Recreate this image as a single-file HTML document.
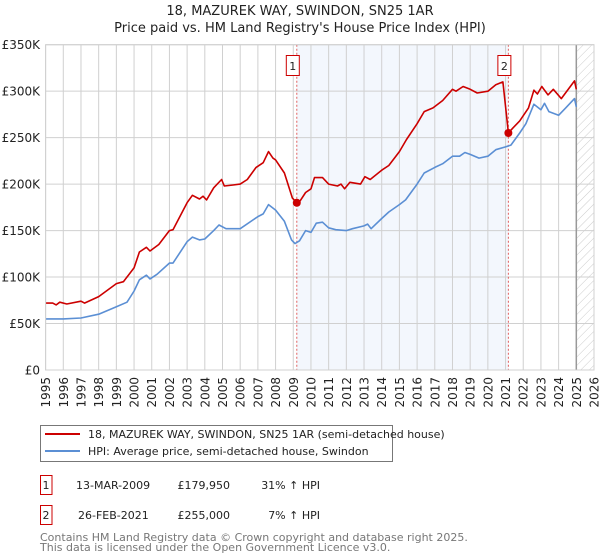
<!DOCTYPE html>
<html><head><meta charset="utf-8"><style>
body{margin:0;background:#fff;font-family:"DejaVu Sans","Liberation Sans",sans-serif;}
#wrap{position:relative;width:600px;height:560px;overflow:hidden}
</style></head><body><div id="wrap">
<svg id="c" width="600" height="560" xmlns="http://www.w3.org/2000/svg" font-family="DejaVu Sans, Liberation Sans, sans-serif">
<defs><pattern id="hatch" width="6" height="6" patternUnits="userSpaceOnUse" patternTransform="rotate(45)"><line x1="0" y1="0" x2="0" y2="6" stroke="#ccc" stroke-width="1"/></pattern></defs>
<text x="300" y="15" text-anchor="middle" font-size="13" fill="#222">18, MAZUREK WAY, SWINDON, SN25 1AR</text>
<text x="300" y="32" text-anchor="middle" font-size="13" fill="#222">Price paid vs. HM Land Registry's House Price Index (HPI)</text>
<g id="plot"></g>
<g>
<rect x="40.5" y="425.5" width="352" height="36" fill="#fff" stroke="#777"/>
<line x1="45" y1="434" x2="80" y2="434" stroke="#cc0000" stroke-width="2"/>
<text x="88" y="438" font-size="11" fill="#222">18, MAZUREK WAY, SWINDON, SN25 1AR (semi-detached house)</text>
<line x1="45" y1="451" x2="80" y2="451" stroke="#5b8fd4" stroke-width="2"/>
<text x="88" y="455" font-size="11" fill="#222">HPI: Average price, semi-detached house, Swindon</text>
</g>
<g font-size="11" fill="#222">
<rect x="40.5" y="475.5" width="11.5" height="19" fill="#fff" stroke="#cc0000"/>
<text x="46" y="489" text-anchor="middle">1</text>
<text x="76" y="489">13-MAR-2009</text>
<text x="230" y="489" text-anchor="end">£179,950</text>
<text x="320" y="489" text-anchor="end">31% ↑ HPI</text>
<rect x="40.5" y="505.5" width="11.5" height="19" fill="#fff" stroke="#cc0000"/>
<text x="46" y="519" text-anchor="middle">2</text>
<text x="78" y="519">26-FEB-2021</text>
<text x="230" y="519" text-anchor="end">£255,000</text>
<text x="320" y="519" text-anchor="end">7% ↑ HPI</text>
</g>
<text x="40" y="171" font-size="11" fill="#777" transform="translate(0,370)">Contains HM Land Registry data © Crown copyright and database right 2025.</text>
<text x="40" y="181" font-size="11" fill="#777" transform="translate(0,370)">This data is licensed under the Open Government Licence v3.0.</text>
</svg>
<script>
const yTicks=[0,50,100,150,200,250,300,350];
const yTickLabels=["£0","£50K","£100K","£150K","£200K","£250K","£300K","£350K"];
const xYears=[1995,1996,1997,1998,1999,2000,2001,2002,2003,2004,2005,2006,2007,2008,2009,2010,2011,2012,2013,2014,2015,2016,2017,2018,2019,2020,2021,2022,2023,2024,2025,2026];
const hpiYears=[1995,1996,1997,1998,1999,1999.6,2000,2000.3,2000.7,2000.9,2001.3,2002,2002.2,2003,2003.3,2003.7,2004,2004.5,2004.8,2005.2,2006,2007,2007.3,2007.6,2008,2008.5,2008.9,2009.1,2009.35,2009.7,2010,2010.3,2010.65,2011,2011.4,2012,2012.35,2013,2013.2,2013.4,2014,2014.4,2015,2015.35,2016,2016.4,2017,2017.45,2018,2018.4,2018.7,2019,2019.5,2020,2020.45,2021,2021.3,2021.8,2022.15,2022.6,2023,2023.2,2023.45,2024,2024.4,2024.9,2025];
const hpiValues=[55,55,56,60,68,73,85,97,102,98,103,115,115,138,143,140,141,150,156,152,152,165,168,178,172,160,140,136,139,150,148,158,159,153,151,150,152,155,157,152,163,170,178,183,200,212,218,222,230,230,234,232,228,230,237,240,242,255,265,286,280,287,278,274,282,292,283];
const priceYears=[1995,1995.4,1995.6,1995.8,1996.2,1997,1997.2,1998,1999,1999.4,2000,2000.3,2000.7,2000.9,2001.4,2002,2002.2,2003,2003.3,2003.7,2003.9,2004.1,2004.5,2004.95,2005.1,2005.6,2006,2006.4,2006.9,2007.3,2007.6,2007.85,2008,2008.5,2008.95,2009.2,2009.35,2009.7,2010,2010.2,2010.65,2011,2011.5,2011.7,2011.9,2012.2,2012.8,2013.05,2013.35,2014,2014.4,2015,2015.4,2016,2016.4,2016.9,2017.45,2018,2018.2,2018.6,2019,2019.4,2020,2020.45,2020.85,2021.16,2021.4,2021.8,2022.3,2022.6,2022.8,2023.05,2023.4,2023.7,2024.15,2024.9,2025];
const priceValues=[72,72,70,73,71,74,72,79,93,95,110,127,132,128,135,150,151,180,188,184,187,183,196,205,198,199,200,205,218,223,235,228,226,212,185,180,181,191,195,207,207,200,198,200,195,202,200,208,205,215,220,235,248,265,278,282,290,302,300,305,302,298,300,307,310,255,260,268,282,301,297,305,296,302,292,311,302];
const saleYears=[2009.2,2021.16];
const saleValues=[179.95,255];
const saleLabels=["1","2"];
const NS="http://www.w3.org/2000/svg";
const X0=45.6,X1=594,Y0=370,Y1=44.7;
function xs(y){return X0+(y-1995)/31*(X1-X0);}
function ys(v){return Y0-v/350*(Y0-Y1);}
const g=document.getElementById('plot');
function mk(t,a){const e=document.createElementNS(NS,t);for(const k in a)e.setAttribute(k,a[k]);g.appendChild(e);return e;}
let e=mk('rect',{x:xs(saleYears[0]),y:Y1,width:xs(saleYears[1])-xs(saleYears[0]),height:Y0-Y1,fill:'#eef3fc',opacity:0.7});


e=mk('rect',{x:xs(2025),y:Y1,width:X1-xs(2025),height:Y0-Y1,fill:'url(#hatch)'});


xYears.forEach(yr=>{
 const l=mk('line',{x1:xs(yr),x2:xs(yr),y1:Y1,y2:Y0,stroke:'#d0d0d0','stroke-width':1});
 
 
 const t=mk('text',{x:0,y:0,'font-size':12,fill:'#222','text-anchor':'end',transform:`translate(${xs(yr)+4.5},377) rotate(-90)`});
 t.textContent=yr;
 
 
});
yTicks.forEach((v,i)=>{
 const l=mk('line',{x1:X0,x2:X1,y1:ys(v),y2:ys(v),stroke:'#d0d0d0','stroke-width':1});
 
 
 const t=mk('text',{x:40,y:ys(v)+4.5,'font-size':12,fill:'#222','text-anchor':'end'});
 t.textContent=yTickLabels[i];
 
 
});
e=mk('line',{x1:xs(2025),x2:xs(2025),y1:Y1,y2:Y0,stroke:'#999','stroke-width':1.5});


saleYears.forEach((yr,i)=>{
 const l=mk('line',{x1:xs(yr),x2:xs(yr),y1:Y1,y2:Y0,stroke:'#e06060','stroke-width':1,'stroke-dasharray':'2,2'});
 
 
});
function path(xsA,vs,color,name){
 const d=xsA.map((yr,i)=>(i?'L':'M')+xs(yr).toFixed(1)+','+ys(vs[i]).toFixed(1)).join('');
 const p=mk('path',{d:d,fill:'none',stroke:color,'stroke-width':1.6,'stroke-linejoin':'round'});
 
 
}
path(hpiYears,hpiValues,'#5b8fd4','hpi-line');
path(priceYears,priceValues,'#cc0000','property-price-line');
saleYears.forEach((yr,i)=>{
 const c=mk('circle',{cx:xs(yr),cy:ys(saleValues[i]),r:4,fill:'#cc0000'});
 
 
 const r=mk('rect',{x:xs(yr)-10.5,y:55.5,width:13,height:20,fill:'#fff',stroke:'#cc0000'});
 
 
 const t=mk('text',{x:xs(yr)-4,y:70,'font-size':11,fill:'#222','text-anchor':'middle'});
 t.textContent=saleLabels[i];
 
 
});
const b=mk('rect',{x:X0,y:Y1,width:X1-X0,height:Y0-Y1,fill:'none',stroke:'#d0d0d0'});


</script>
</div></body></html>
